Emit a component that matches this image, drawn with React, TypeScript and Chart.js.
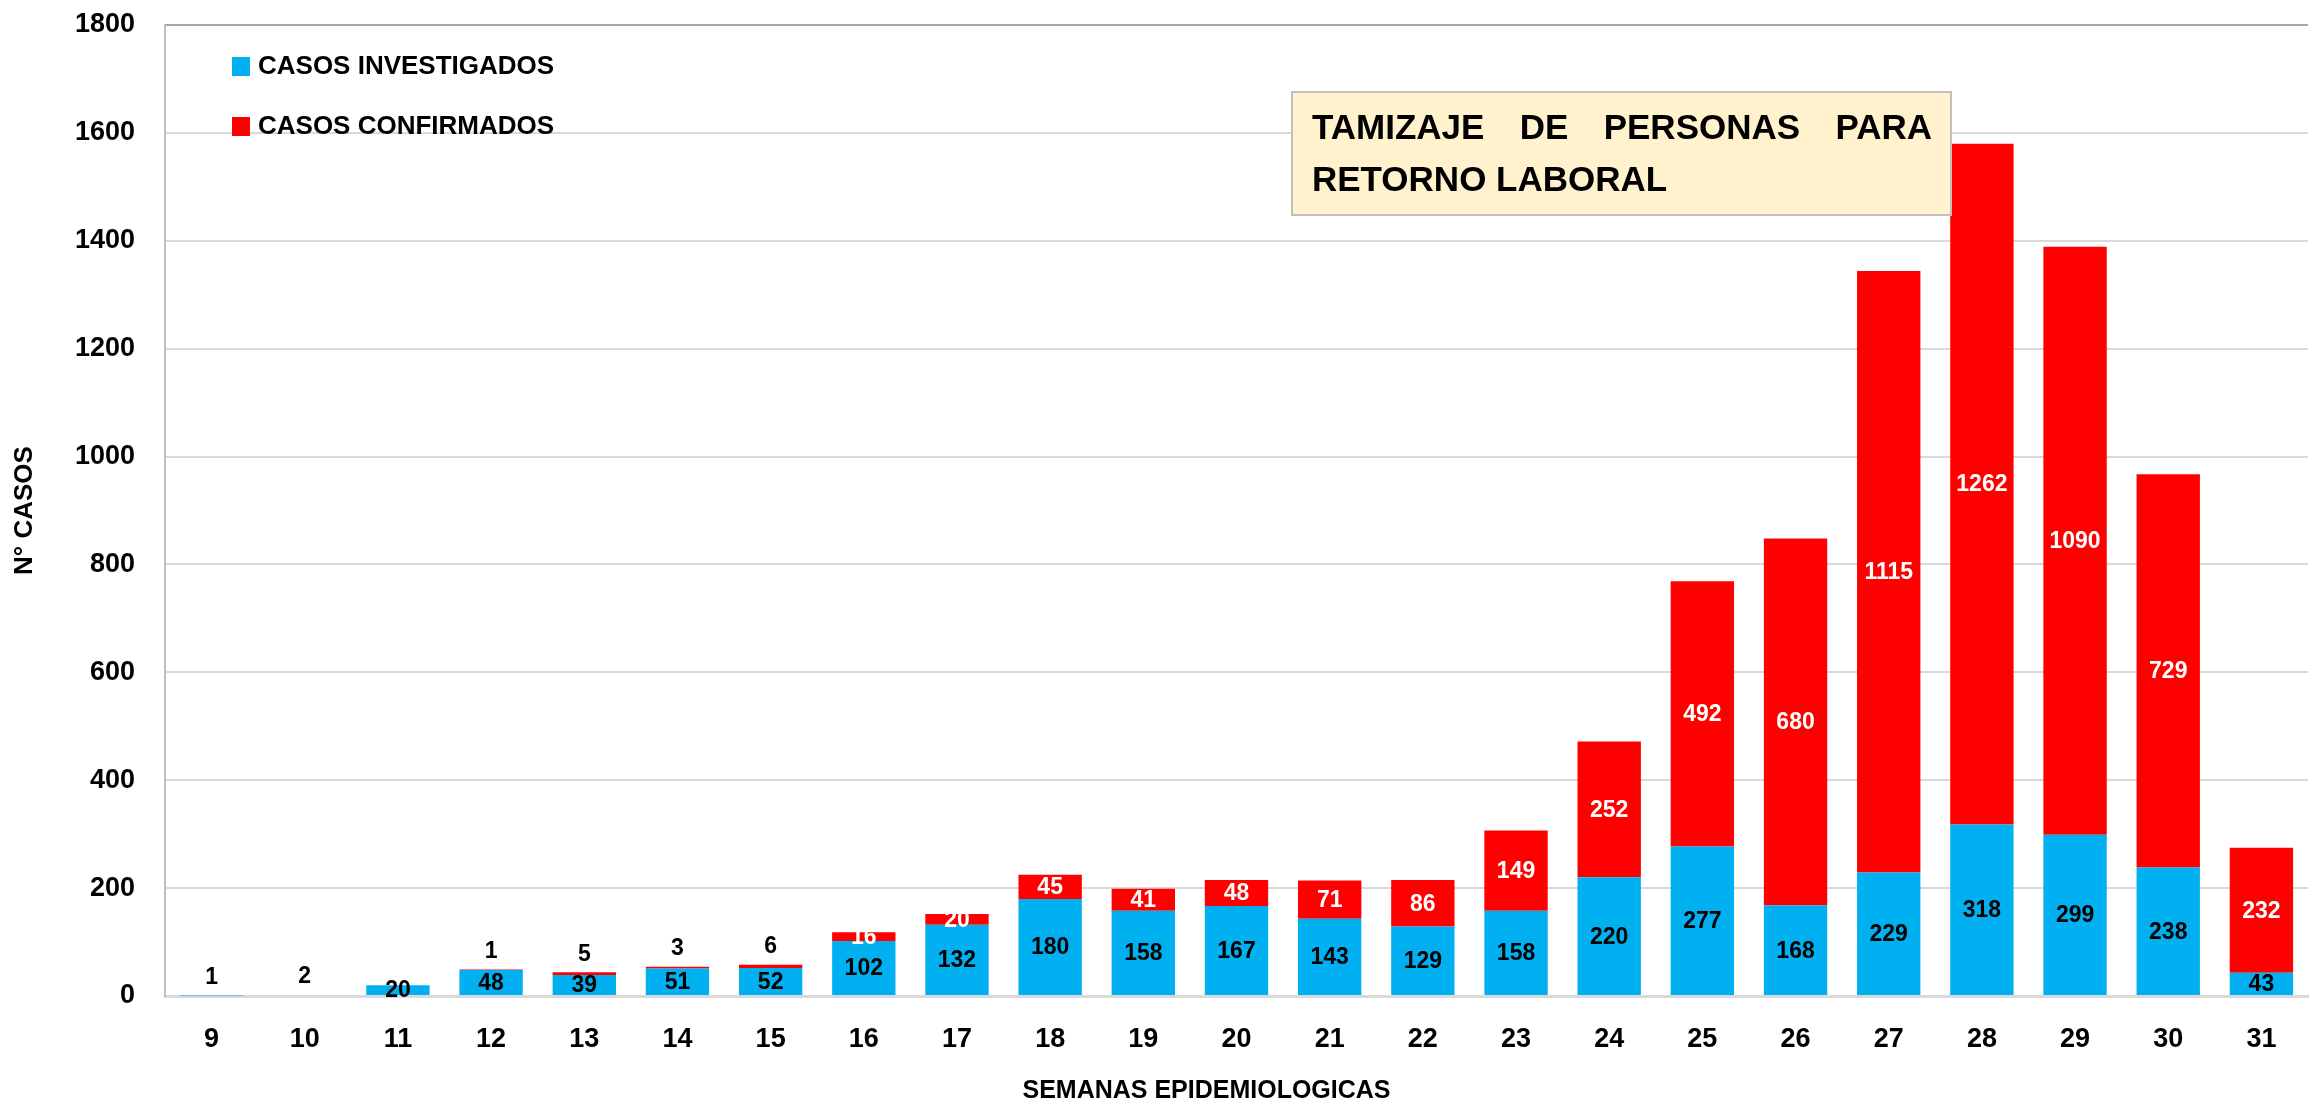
import React, { useEffect, useRef } from "react";
import { Chart, registerables } from "chart.js";

Chart.register(...registerables);

const weeks = ["9", "10", "11", "12", "13", "14", "15", "16", "17", "18", "19", "20", "21", "22", "23", "24", "25", "26", "27", "28", "29", "30", "31"];
const investigated = [1, 2, 20, 48, 39, 51, 52, 102, 132, 180, 158, 167, 143, 129, 158, 220, 277, 168, 229, 318, 299, 238, 43];
const confirmed = [null, null, null, 1, 5, 3, 6, 16, 20, 45, 41, 48, 71, 86, 149, 252, 492, 680, 1115, 1262, 1090, 729, 232];
const seriesNames = ["CASOS INVESTIGADOS", "CASOS CONFIRMADOS"];
const seriesColors = ["#00B0F0", "#FF0000"];
const yMax = 1800;
const yStep = 200;
const xTitle = "SEMANAS EPIDEMIOLOGICAS";
const yTitle = "N° CASOS";
const boxLines = ["TAMIZAJE DE PERSONAS PARA", "RETORNO LABORAL"];

const FONT = '"Liberation Sans", Arial, sans-serif';

const labelPlugin = {
  id: "labelPlugin",
  afterDatasetsDraw(chart: any) {
    const ctx = chart.ctx;
    ctx.save();
    ctx.font = `bold 23px ${FONT}`;
    ctx.textAlign = "center";
    ctx.textBaseline = "middle";
    const n = chart.data.labels.length;
    for (let j = 0; j < n; j++) {
      let top = Infinity;
      chart.data.datasets.forEach((ds: any, i: number) => {
        const el = chart.getDatasetMeta(i).data[j];
        if (ds.data[j] != null && el) top = Math.min(top, el.y);
      });
      chart.data.datasets.forEach((ds: any, i: number) => {
        const v = ds.data[j];
        if (v == null) return;
        const el = chart.getDatasetMeta(i).data[j];
        if (v < 10) {
          ctx.fillStyle = "#000000";
          ctx.fillText(String(v), el.x, top - 18);
        } else {
          ctx.fillStyle = i === 0 ? "#000000" : "#FFFFFF";
          ctx.fillText(String(v), el.x, (el.y + el.base) / 2 + 1);
        }
      });
    }
    ctx.restore();
  },
  afterDraw(chart: any) {
    const ctx = chart.ctx;
    const ca = chart.chartArea;
    ctx.save();
    // legend
    ctx.font = `bold 26px ${FONT}`;
    ctx.textBaseline = "middle";
    ctx.textAlign = "left";
    const legY = [66, 126];
    seriesNames.forEach((name, i) => {
      ctx.fillStyle = seriesColors[i];
      ctx.fillRect(ca.left + 67, legY[i] - 9, 18, 19);
      ctx.fillStyle = "#000000";
      ctx.fillText(name, ca.left + 93, legY[i] + 1);
    });
    // annotation box
    const bx = 1292, by = 92, bw = 659, bh = 123;
    ctx.fillStyle = "#FFF2CC";
    ctx.fillRect(bx, by, bw, bh);
    ctx.strokeStyle = "#BFBFBF";
    ctx.lineWidth = 2;
    ctx.strokeRect(bx, by, bw, bh);
    ctx.fillStyle = "#000000";
    ctx.font = `bold 35px ${FONT}`;
    const tl = bx + 20, tr = bx + bw - 19;
    const words = boxLines[0].split(" ");
    const widths = words.map((w) => ctx.measureText(w).width);
    const total = widths.reduce((a, b) => a + b, 0);
    const gap = (tr - tl - total) / (words.length - 1);
    let cx = tl;
    words.forEach((w, k) => {
      ctx.fillText(w, cx, 129);
      cx += widths[k] + gap;
    });
    ctx.fillText(boxLines[1], tl, 181);
    // x title
    ctx.font = `bold 25px ${FONT}`;
    ctx.textAlign = "center";
    ctx.fillText(xTitle, ca.left + ca.width * 0.486, 1091);
    ctx.restore();
  },
};

export default function App() {
  const ref = useRef<HTMLCanvasElement | null>(null);
  useEffect(() => {
    if (!ref.current) return;
    const chart = new Chart(ref.current, {
      type: "bar",
      data: {
        labels: weeks,
        datasets: [
          { label: seriesNames[0], data: investigated, backgroundColor: seriesColors[0], barPercentage: 0.68, categoryPercentage: 1 },
          { label: seriesNames[1], data: confirmed as any, backgroundColor: seriesColors[1], barPercentage: 0.68, categoryPercentage: 1 },
        ],
      },
      options: {
        responsive: false,
        animation: false,
        devicePixelRatio: 1,
        layout: { padding: { top: 25, right: 4, left: 0, bottom: 0 } },
        plugins: { legend: { display: false }, tooltip: { enabled: false } },
        scales: {
          x: {
            stacked: true,
            grid: { display: false, drawTicks: false },
            border: { color: "#D9D9D9", width: 3 },
            ticks: { color: "#000000", font: { family: FONT, weight: "bold", size: 27 }, padding: 27 },
            afterFit: (s: any) => { s.height = 109; },
          },
          y: {
            stacked: true,
            min: 0,
            max: yMax,
            ticks: {
              stepSize: yStep,
              color: "#000000",
              font: { family: FONT, weight: "bold", size: 27 },
              padding: 30,
              callback: (v: any) => String(v),
            },
            grid: {
              drawTicks: false,
              color: (c: any) => (c.tick && c.tick.value === yMax ? "#A6A6A6" : "#D9D9D9"),
              lineWidth: 2,
            },
            border: { color: "#BFBFBF", width: 2 },
            title: { display: true, text: yTitle, color: "#000000", font: { family: FONT, weight: "bold", size: 26 }, padding: { top: 9, bottom: 4 } },
            afterFit: (s: any) => {
              s.width = 165;
              s.paddingTop = 0;
              s.paddingBottom = 0;
            },
          },
        },
      },
      plugins: [labelPlugin],
    });
    return () => chart.destroy();
  }, []);
  return (
    <div style={{ position: "fixed", left: 0, top: 0, width: 2312, height: 1105, background: "#FFFFFF" }}>
      <canvas ref={ref} width={2312} height={1105} style={{ display: "block" }} />
    </div>
  );
}
